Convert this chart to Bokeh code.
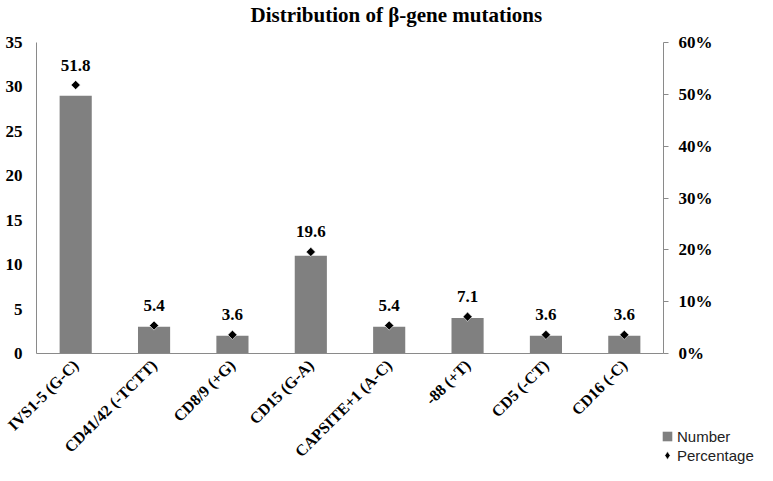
import math
from bokeh.plotting import figure
from bokeh.models import (Range1d, LinearAxis, FixedTicker, NumeralTickFormatter,
                          Legend, LegendItem, ColumnDataSource)
from bokeh.embed import file_html
from bokeh.resources import INLINE
from bokeh.core.properties import value

title_text = "Distribution of β-gene mutations"
categories = ["IVS1-5 (G-C)", "CD41/42 (-TCTT)", "CD8/9 (+G)", "CD15 (G-A)",
              "CAPSITE+1 (A-C)", "-88 (+T)", "CD5 (-CT)", "CD16 (-C)"]
numbers = [29, 3, 2, 11, 3, 4, 2, 2]
percentages = [51.8, 5.4, 3.6, 19.6, 5.4, 7.1, 3.6, 3.6]
left_ticks = [0, 5, 10, 15, 20, 25, 30, 35]
right_ticks = [0, 0.1, 0.2, 0.3, 0.4, 0.5, 0.6]

SERIF = "Liberation Serif"
AXIS_GRAY = "#8a8a8a"
BAR_GRAY = "#808080"

# ---- layout geometry (pixels inside the 757x465 figure) ----
W, H = 757, 465
TOP = 28                      # height of title band; plotting frame below it
AX_L, AX_R = 36, 663          # x pixel of left / right value axes
AX_T, AX_B = 42, 353          # y pixel of top (max) / bottom (0) of value axes
n = len(categories)
px_per_cat = (AX_R - AX_L) / n
y_max, p_max = left_ticks[-1], right_ticks[-1]
py = (AX_B - AX_T) / y_max
pp = (AX_B - AX_T) / p_max

x_start = -0.5 - AX_L / px_per_cat
x_end = (n - 0.5) + (W - AX_R) / px_per_cat
y_top = y_max + (AX_T - TOP) / py
y_bot = -(H - AX_B) / py
p_top = p_max + (AX_T - TOP) / pp
p_bot = -(H - AX_B) / pp

xs = list(range(n))
src = ColumnDataSource(dict(
    x=xs,
    num=numbers,
    pct=[v / 100 for v in percentages],
    lbl=[f"{v:.1f}" for v in percentages],
))

p = figure(width=W, height=H,
           x_range=Range1d(x_start, x_end),
           y_range=Range1d(y_bot, y_top),
           x_axis_location=None, y_axis_location=None,
           output_backend="svg", toolbar_location=None,
           min_border_left=0, min_border_right=0,
           min_border_top=TOP, min_border_bottom=0)
p.extra_y_ranges = {"pct": Range1d(p_bot, p_top)}

p.title.text = title_text
p.title.text_font = SERIF
p.title.text_font_style = "bold"
p.title.text_font_size = "21px"
p.title.text_color = "black"
p.title.align = "left"
p.title.offset = 250
p.title.standoff = 0
p.title.vertical_align = "top"

p.outline_line_color = None
p.xgrid.visible = False
p.ygrid.visible = False

bars = p.vbar(x="x", top="num", width=0.41, source=src,
              fill_color=BAR_GRAY, line_color=None)
pts = p.scatter(x="x", y="pct", source=src, y_range_name="pct",
                marker="square", angle=math.pi / 4, size=6.5,
                fill_color="black", line_color="white", line_width=0.6)
# legend key for the percentage series (a single undrawable point)
nan = float("nan")
pts_key = p.scatter(x=[nan], y=[nan], y_range_name="pct", marker="diamond",
                    size=8, fill_color="black", line_color="white",
                    line_width=0.6)
p.text(x="x", y="pct", text="lbl", source=src, y_range_name="pct",
       y_offset=-20, text_align="center", text_baseline="middle",
       text_font=value(SERIF), text_font_style="bold",
       text_font_size="17px", text_color="black")

# left value axis
ya = LinearAxis(ticker=FixedTicker(ticks=left_ticks), fixed_location=-0.5,
                bounds=(0, y_max))
ya.axis_line_color = AXIS_GRAY
ya.major_tick_line_color = None
ya.minor_tick_line_color = None
ya.major_tick_out = 0
ya.major_tick_in = 0
ya.major_label_standoff = 14
ya.major_label_text_font = SERIF
ya.major_label_text_font_style = "bold"
ya.major_label_text_font_size = "17px"
ya.major_label_text_color = "black"
p.add_layout(ya, "left")

# category axis
xa = LinearAxis(ticker=FixedTicker(ticks=xs), fixed_location=0,
                bounds=(-0.5, n - 0.5),
                major_label_overrides={i: c for i, c in zip(xs, categories)})
xa.axis_line_color = AXIS_GRAY
xa.major_tick_line_color = None
xa.minor_tick_line_color = None
xa.major_tick_out = 0
xa.major_tick_in = 0
xa.major_label_standoff = 9
xa.major_label_orientation = math.pi / 4
xa.major_label_text_font = SERIF
xa.major_label_text_font_style = "bold"
xa.major_label_text_font_size = "16px"
xa.major_label_text_color = "black"
p.add_layout(xa, "below")

# right percentage axis
ra = LinearAxis(y_range_name="pct", ticker=FixedTicker(ticks=right_ticks),
                formatter=NumeralTickFormatter(format="0%"),
                fixed_location=n - 0.5, bounds=(0, p_max))
ra.axis_line_color = AXIS_GRAY
ra.major_tick_line_color = AXIS_GRAY
ra.minor_tick_line_color = None
ra.major_tick_out = 5
ra.major_tick_in = 0
ra.major_label_standoff = 10
ra.major_label_text_font = SERIF
ra.major_label_text_font_style = "bold"
ra.major_label_text_font_size = "17px"
ra.major_label_text_color = "black"
p.add_layout(ra, "right")

common = dict(orientation="vertical", padding=0, margin=0, spacing=0,
              label_height=18, label_text_font="Liberation Sans",
              label_text_font_size="15px", label_text_color="#222222",
              border_line_color=None, background_fill_alpha=0)
legend_num = Legend(items=[LegendItem(label="Number", renderers=[bars])],
                    location=(661, 20), glyph_width=12, glyph_height=12,
                    label_standoff=4, **common)
legend_pct = Legend(items=[LegendItem(label="Percentage", renderers=[pts_key])],
                    location=(657, 0), glyph_width=20, glyph_height=20,
                    label_standoff=0, **common)
p.add_layout(legend_num)
p.add_layout(legend_pct)

open("out.html", "w").write(file_html(p, INLINE))
